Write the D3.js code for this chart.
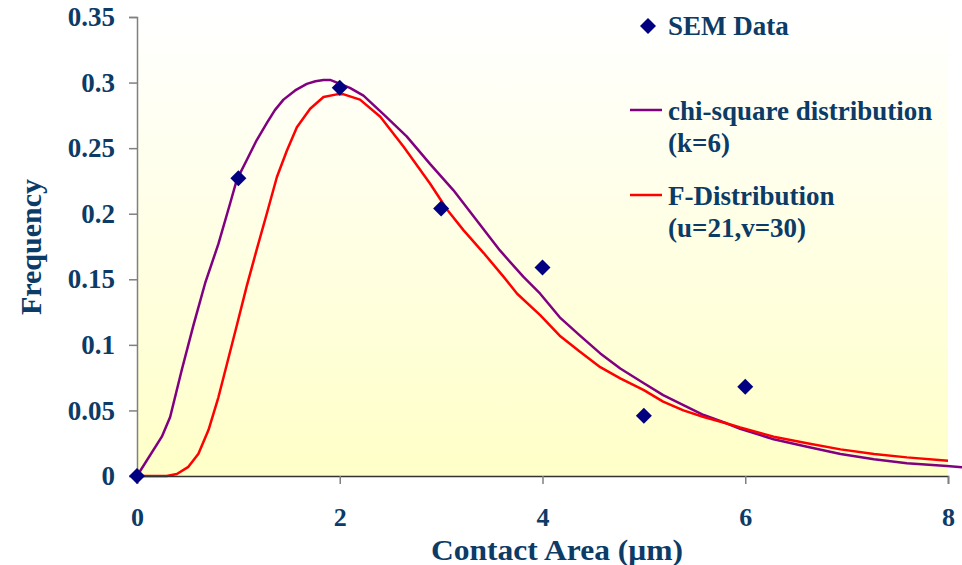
<!DOCTYPE html>
<html>
<head>
<meta charset="utf-8">
<script src="https://cdn.jsdelivr.net/npm/d3@7"></script>
<style>
  html, body { margin: 0; padding: 0; background: #fff; }
  svg { display: block; }
  text { font-family: "Liberation Serif", "Times New Roman", serif; font-weight: bold; fill: #0B3B66; }
</style>
</head>
<body>
<svg id="chart" width="962" height="565"></svg>
<script>
// ---- data ----
const xTicks = [0, 2, 4, 6, 8];
const yTicks = [0, 0.05, 0.1, 0.15, 0.2, 0.25, 0.3, 0.35];
const yTickLabels = ["0", "0.05", "0.1", "0.15", "0.2", "0.25", "0.3", "0.35"];

const semX = [0, 1, 2, 3, 4, 5, 6];
const semY = [0, 0.227, 0.296, 0.204, 0.159, 0.046, 0.068];

const chiX = [0, 0.245, 0.327, 0.442, 0.557, 0.672, 0.803, 0.919, 0.985, 1.083, 1.18, 1.28, 1.36, 1.445, 1.56, 1.675, 1.76, 1.84, 1.905, 2.004, 2.10, 2.234, 2.43, 2.66, 2.89, 3.12, 3.35, 3.58, 3.81, 3.977, 4.17, 4.37, 4.57, 4.767, 5.0, 5.19, 5.39, 5.59, 5.82, 5.95, 6.28, 6.61, 6.94, 7.27, 7.595, 7.99, 8.2];
const chiY = [0, 0.030, 0.045, 0.081, 0.115, 0.147, 0.177, 0.208, 0.226, 0.241, 0.256, 0.269, 0.279, 0.287, 0.294, 0.299, 0.301, 0.302, 0.302, 0.299, 0.296, 0.290, 0.276, 0.259, 0.238, 0.218, 0.195, 0.172, 0.152, 0.139, 0.121, 0.107, 0.0935, 0.082, 0.0707, 0.0617, 0.054, 0.0465, 0.040, 0.036, 0.028, 0.0223, 0.0168, 0.0127, 0.0097, 0.0076, 0.0062];

const fX = [0, 0.294, 0.393, 0.507, 0.606, 0.705, 0.803, 0.886, 0.985, 1.083, 1.182, 1.28, 1.38, 1.478, 1.577, 1.708, 1.84, 1.97, 2.04, 2.20, 2.40, 2.63, 2.89, 3.06, 3.22, 3.42, 3.615, 3.75, 3.977, 4.17, 4.37, 4.57, 4.767, 5.0, 5.19, 5.39, 5.59, 5.82, 5.95, 6.28, 6.61, 6.94, 7.27, 7.595, 8.0];
const fY = [0, 0, 0.0015, 0.007, 0.017, 0.035, 0.060, 0.085, 0.115, 0.145, 0.173, 0.200, 0.228, 0.248, 0.266, 0.280, 0.289, 0.291, 0.291, 0.287, 0.274, 0.251, 0.223, 0.203, 0.1875, 0.170, 0.152, 0.139, 0.1227, 0.107, 0.0947, 0.083, 0.0745, 0.0655, 0.0567, 0.050, 0.045, 0.040, 0.037, 0.030, 0.025, 0.0203, 0.0168, 0.0142, 0.0117];

const legendLabels = [["SEM Data"], ["chi-square distribution", "(k=6)"], ["F-Distribution", "(u=21,v=30)"]];

// ---- layout ----
const svg = d3.select("#chart");
const pLeft = 137, pRight = 948, pTop = 17, pBottom = 476;
const x = d3.scaleLinear().domain([0, 8]).range([pLeft, pRight]);
const y = d3.scaleLinear().domain([0, 0.35]).range([pBottom, pTop]);

const defs = svg.append("defs");
const grad = defs.append("linearGradient").attr("id", "bg").attr("x1", 0).attr("y1", 0).attr("x2", 0).attr("y2", 1);
grad.append("stop").attr("offset", "0%").attr("stop-color", "#FFFFFF");
grad.append("stop").attr("offset", "100%").attr("stop-color", "#FFFFC8");

svg.append("rect").attr("x", pLeft).attr("y", pTop).attr("width", pRight - pLeft).attr("height", pBottom - pTop).attr("fill", "url(#bg)");

// lines
const line = d3.line().x(d => x(d[0])).y(d => y(d[1])).curve(d3.curveLinear);
svg.append("path").datum(chiX.map((v, i) => [v, chiY[i]]))
  .attr("d", line).attr("fill", "none").attr("stroke", "#800080").attr("stroke-width", 2.5).attr("stroke-linejoin", "round");
svg.append("path").datum(fX.map((v, i) => [v, fY[i]]))
  .attr("d", line).attr("fill", "none").attr("stroke", "#FF0000").attr("stroke-width", 2.5).attr("stroke-linejoin", "round");

// axes
const yAxis = svg.append("g").attr("transform", `translate(${pLeft},0)`)
  .call(d3.axisLeft(y).tickValues(yTicks).tickFormat((d, i) => yTickLabels[i]).tickSize(8).tickPadding(14));
yAxis.select(".domain").attr("stroke", "#808080").attr("stroke-width", 1.5);
yAxis.selectAll(".tick line").attr("stroke", "#808080").attr("stroke-width", 1.5);
yAxis.selectAll("text").attr("font-size", 27).attr("fill", "#0B3B66").attr("font-family", null);

const xAxis = svg.append("g").attr("transform", `translate(0,${pBottom})`)
  .call(d3.axisBottom(x).tickValues(xTicks).tickFormat(d3.format("d")).tickSize(8).tickPadding(24));
xAxis.select(".domain").attr("stroke", "#333").attr("stroke-width", 1.5);
xAxis.selectAll(".tick line").attr("stroke", "#808080").attr("stroke-width", 1.5);
xAxis.selectAll("text").attr("font-size", 26).attr("fill", "#0B3B66").attr("font-family", null);

// points
const diamond = "M0,-8L8,0L0,8L-8,0Z";
svg.append("g").selectAll("path").data(semX.map((v, i) => [v, semY[i]])).join("path")
  .attr("d", diamond).attr("transform", d => `translate(${x(d[0])},${y(d[1])})`).attr("fill", "#000080");

// axis titles
svg.append("text").attr("x", 557).attr("y", 560).attr("text-anchor", "middle").attr("font-size", 30)
  .attr("textLength", 252).attr("lengthAdjust", "spacingAndGlyphs")
  .text("Contact Area (\u03bcm)");
svg.append("text").attr("transform", "translate(41,247) rotate(-90)").attr("text-anchor", "middle").attr("font-size", 30)
  .text("Frequency");

// legend
const lg = svg.append("g");
lg.append("path").attr("d", diamond).attr("transform", "translate(648,26)").attr("fill", "#000080");
lg.append("line").attr("x1", 630).attr("x2", 662).attr("y1", 110).attr("y2", 110).attr("stroke", "#800080").attr("stroke-width", 2.5);
lg.append("line").attr("x1", 630).attr("x2", 662).attr("y1", 195).attr("y2", 195).attr("stroke", "#FF0000").attr("stroke-width", 2.5);
const baselines = [[35], [120, 152], [205, 237]];
legendLabels.forEach((lines, i) => {
  lines.forEach((t, j) => {
    lg.append("text").attr("x", 668).attr("y", baselines[i][j]).attr("font-size", 27).text(t);
  });
});
</script>
</body>
</html>
